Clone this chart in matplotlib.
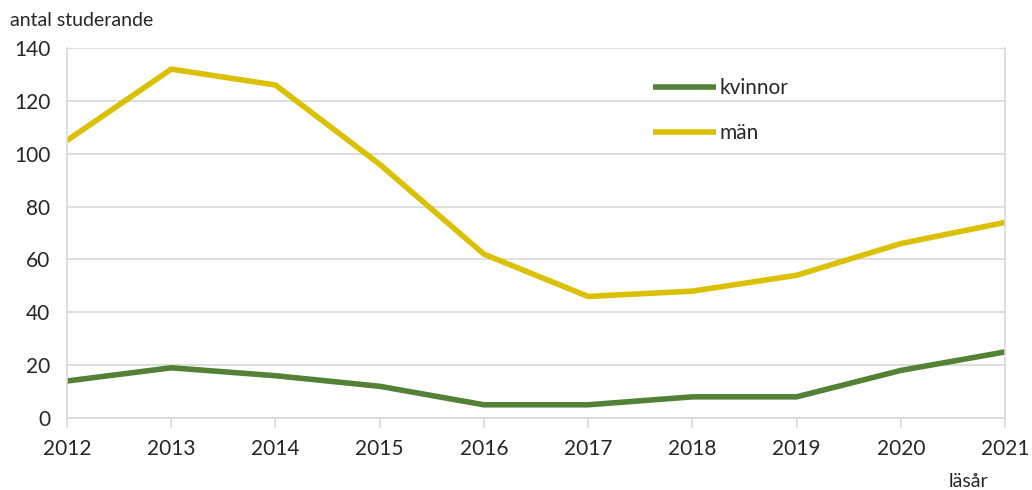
import matplotlib.pyplot as plt

plt.rcParams['font.family'] = ['Lato', 'DejaVu Sans']
plt.rcParams['font.size'] = 14

years = [2012, 2013, 2014, 2015, 2016, 2017, 2018, 2019, 2020, 2021]
kvinnor = [14, 19, 16, 12, 5, 5, 8, 8, 18, 25]
man = [105, 132, 126, 96, 62, 46, 48, 54, 66, 74]

green = '#538135'
yellow = '#dbc000'
grid_col = '#d9d9d9'
text_col = '#262626'

fig = plt.figure(figsize=(10.32, 4.9), dpi=100)
ax = fig.add_axes([67 / 1032, 72 / 490, 938 / 1032, 370 / 490])

l1, = ax.plot(years, kvinnor, color=green, lw=4.0, solid_capstyle='butt', solid_joinstyle='round')
l2, = ax.plot(years, man, color=yellow, lw=4.0, solid_capstyle='butt', solid_joinstyle='round')

ax.set_xlim(2012, 2021)
ax.set_ylim(0, 140)
ax.set_yticks(range(0, 141, 20))
ax.set_xticks(years)
ax.yaxis.grid(True, color=grid_col, lw=1.2)
ax.set_axisbelow(True)

ax.spines['top'].set_visible(False)
for s in ['left', 'right', 'bottom']:
    ax.spines[s].set_color(grid_col)
    ax.spines[s].set_linewidth(1.2)

ax.tick_params(axis='y', length=0, pad=12, labelcolor=text_col, labelsize=15)
ax.tick_params(axis='x', length=7, width=1.2, color=grid_col, direction='out',
               pad=8, labelcolor=text_col, labelsize=15)

fig.text(10 / 1032, 1 - 20 / 490, 'antal studerande', color=text_col, fontsize=14, va='center')
fig.text(968 / 1032, 1 - 481 / 490, 'läsår', color=text_col, fontsize=14, ha='center', va='center')

ax.legend([l1, l2], ['kvinnor', 'män'], loc='upper left', bbox_to_anchor=(0.605, 0.97),
          frameon=False, handlelength=3.0, handletextpad=0.2, labelspacing=1.2,
          fontsize=15, labelcolor=text_col)

fig.savefig('out.png', dpi=100)
